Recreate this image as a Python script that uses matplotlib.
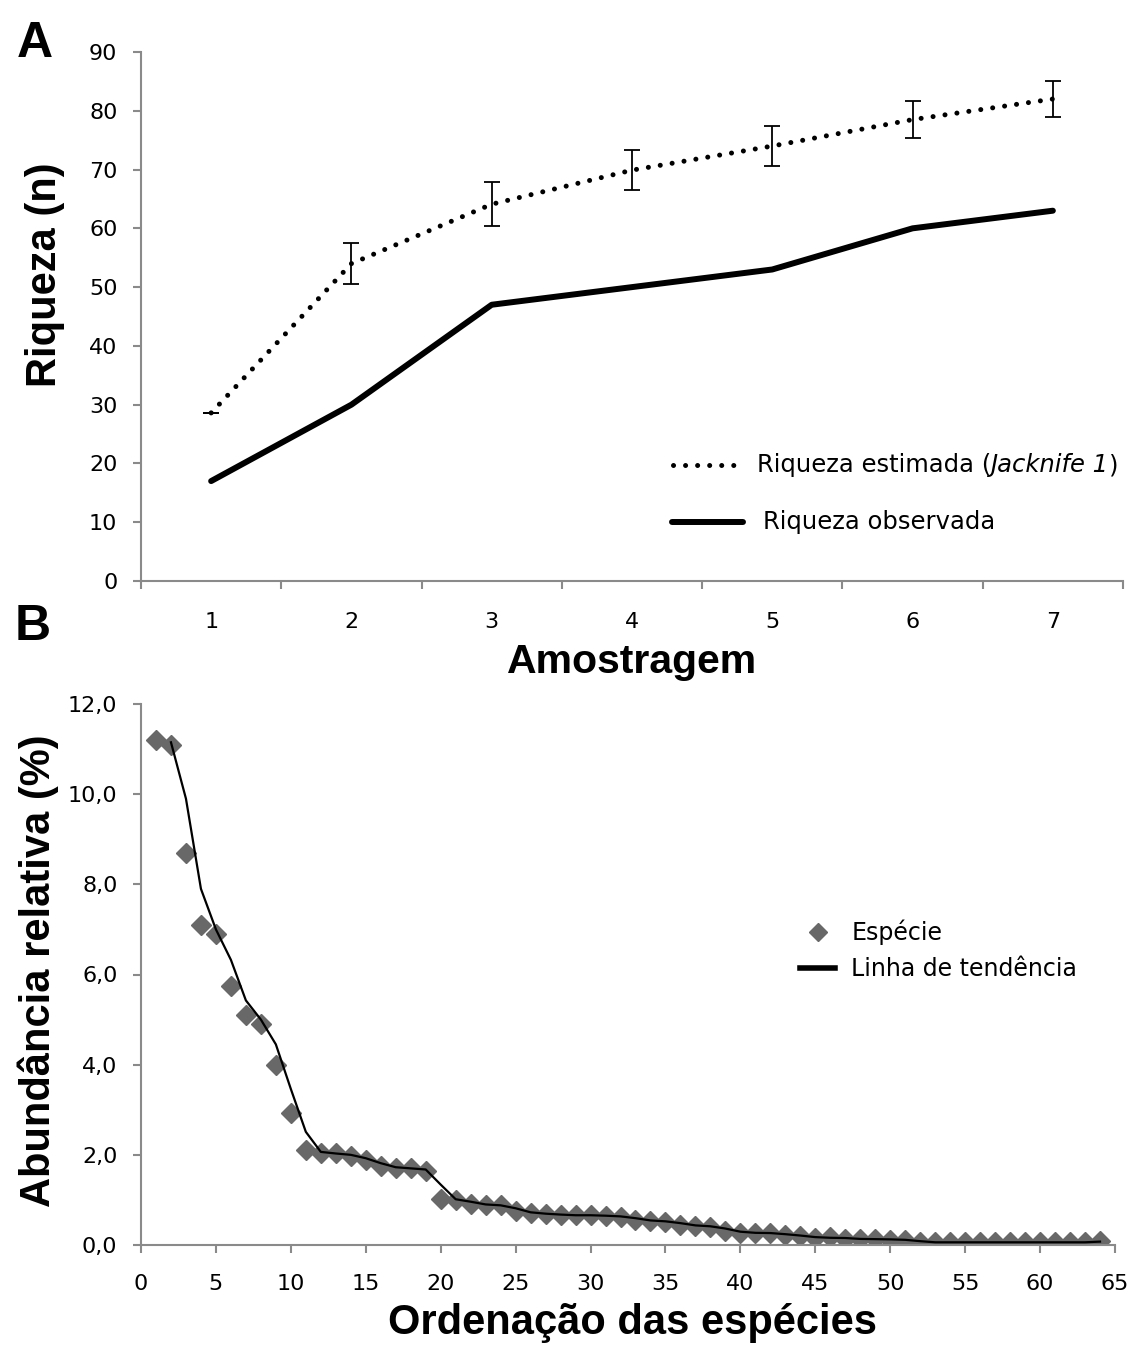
import numpy as np
import pandas as pd
import matplotlib
matplotlib.use("Agg")
import matplotlib.pyplot as plt

# Panel A: species richness per sampling
amostragem = [1, 2, 3, 4, 5, 6, 7]
riqueza_estimada = [28.6, 54.0, 64.1, 69.9, 74.0, 78.5, 82.0]
erro_estimada = [0.0, 3.5, 3.7, 3.4, 3.4, 3.2, 3.1]
riqueza_observada = [17, 30, 47, 50, 53, 60, 63]

# Panel B: rank-abundance
abundancia = [
    11.2, 11.1, 8.7, 7.1, 6.9, 5.75, 5.1, 4.9, 4.0, 2.92,
    2.1, 2.03, 2.03, 1.97, 1.88, 1.75, 1.70, 1.70, 1.65, 1.03,
    1.0, 0.92, 0.88, 0.88, 0.75, 0.70, 0.69, 0.66, 0.66, 0.66,
    0.64, 0.63, 0.56, 0.53, 0.52, 0.45, 0.42, 0.41, 0.32, 0.27,
    0.27, 0.26, 0.22, 0.20, 0.15, 0.17, 0.14, 0.13, 0.13, 0.12,
    0.11, 0.06, 0.06, 0.06, 0.06, 0.06, 0.06, 0.06, 0.06, 0.06,
    0.06, 0.06, 0.06, 0.09,
]
ordem = list(range(1, len(abundancia) + 1))

W, H = 1132, 1345
AXIS_GREY = "#8a8a8a"
TICK_FONT = "DejaVu Sans"
TITLE_FONT = "Liberation Sans"
DOTTED = (0, (0.01, 2.4))


def px_box(left, top, right, bottom):
    return [left / W, 1 - bottom / H, (right - left) / W, (bottom - top) / H]


def style_axes(ax):
    for side in ("top", "right"):
        ax.spines[side].set_visible(False)
    for side in ("left", "bottom"):
        ax.spines[side].set_color(AXIS_GREY)
        ax.spines[side].set_linewidth(1.5)
    ax.tick_params(which="both", color=AXIS_GREY, width=1.5, direction="out",
                   labelsize=16, labelcolor="black")
    for lab in ax.get_xticklabels(which="both") + ax.get_yticklabels():
        lab.set_family(TICK_FONT)


fig = plt.figure(figsize=(W / 100, H / 100), dpi=100)

# ---------- Panel A ----------
axA = fig.add_axes(px_box(141, 52, 1123, 581))
axA.errorbar(amostragem, riqueza_estimada, yerr=erro_estimada, color="black",
             lw=3.6, linestyle=DOTTED, dash_capstyle="round",
             ecolor="black", elinewidth=1.3, capsize=5.5, capthick=1.3)
axA.plot(amostragem, riqueza_observada, color="black", lw=4.3,
         solid_capstyle="round")
axA.set_xlim(0.5, 7.5)
axA.set_ylim(0, 90)
axA.set_yticks(np.arange(0, 91, 10))
axA.set_xticks(np.arange(0.5, 7.6, 1.0))
axA.set_xticklabels([])
axA.set_xticks(amostragem, minor=True)
axA.set_xticklabels([str(a) for a in amostragem], minor=True)
axA.tick_params(axis="x", which="major", length=6)
axA.tick_params(axis="x", which="minor", length=0, pad=22)
axA.tick_params(axis="y", length=6, pad=11)
style_axes(axA)

# legend drawn by hand so that only "Jacknife 1" is italic
def ax_x(px):
    return (px - 141) / 982


def ax_y(py):
    return (581 - py) / 529


leg_font = {"family": TICK_FONT, "size": 17.5}
axA.plot([ax_x(673), ax_x(740)], [ax_y(465)] * 2, transform=axA.transAxes,
         color="black", lw=3.6, linestyle=DOTTED, dash_capstyle="round",
         clip_on=False)
axA.plot([ax_x(672), ax_x(743)], [ax_y(522)] * 2, transform=axA.transAxes,
         color="black", lw=4.3, solid_capstyle="round", clip_on=False)
t1 = axA.text(ax_x(757), ax_y(465), "Riqueza estimada (", va="center",
              ha="left", transform=axA.transAxes, **leg_font)
t2 = axA.annotate("Jacknife 1", xy=(1, 0), xycoords=t1, va="bottom",
                  ha="left", style="italic", **leg_font)
axA.annotate(")", xy=(1, 0), xycoords=t2, va="bottom", ha="left", **leg_font)
axA.text(ax_x(763), ax_y(522), "Riqueza observada", va="center", ha="left",
         transform=axA.transAxes, **leg_font)

fig.text(632 / W, 1 - 662 / H, "Amostragem", ha="center", va="center",
         fontsize=29.5, fontweight="bold", family=TITLE_FONT)
fig.text(45 / W, 1 - 275 / H, "Riqueza (n)", ha="center", va="center",
         rotation=90, fontsize=30, fontweight="bold", family=TITLE_FONT)
fig.text(35 / W, 1 - 44 / H, "A", ha="center", va="center",
         fontsize=36, fontweight="bold", family=TITLE_FONT)

# ---------- Panel B ----------
axB = fig.add_axes(px_box(141, 704, 1115, 1245))
tendencia = pd.Series(abundancia).rolling(2).mean()
axB.plot(ordem, abundancia, linestyle="none", marker="D", markersize=10.5,
         color="#686868", markeredgecolor="#686868", label="Espécie", zorder=2)
axB.plot(ordem, tendencia, color="black", lw=1.6, label="Linha de tendência",
         zorder=3)
axB.set_xlim(0, 65)
axB.set_ylim(0, 12)
axB.set_xticks(np.arange(0, 66, 5))
axB.set_yticks(np.arange(0, 12.1, 2))
axB.set_yticklabels([f"{v:.1f}".replace(".", ",") for v in np.arange(0, 12.1, 2)])
axB.tick_params(axis="x", length=6, pad=15)
axB.tick_params(axis="y", length=6, pad=11)
style_axes(axB)

legB = axB.legend(loc="center left", bbox_to_anchor=(0.677, 0.545),
                  frameon=False, borderpad=0, borderaxespad=0,
                  handlelength=1.45, handletextpad=0.7, labelspacing=0.5,
                  markerscale=0.85, prop={"family": TICK_FONT, "size": 17})
for line in legB.get_lines():
    if line.get_linestyle() == "-":
        line.set_linewidth(4)

fig.text(632 / W, 1 - 1323 / H, "Ordenação das espécies", ha="center",
         va="center", fontsize=30, fontweight="bold", family=TITLE_FONT)
fig.text(38 / W, 1 - 971 / H, "Abundância relativa (%)", ha="center",
         va="center", rotation=90, fontsize=30, fontweight="bold",
         family=TITLE_FONT)
fig.text(33 / W, 1 - 627 / H, "B", ha="center", va="center",
         fontsize=36, fontweight="bold", family=TITLE_FONT)

fig.savefig("out.png", dpi=100)
plt.close(fig)
